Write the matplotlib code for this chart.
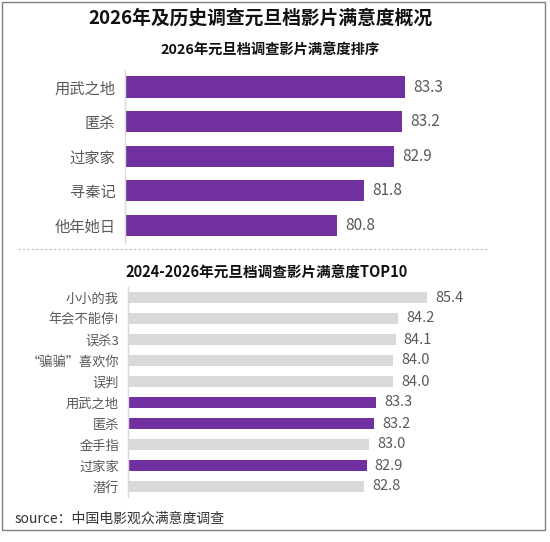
import matplotlib
matplotlib.use("Agg")
import matplotlib.pyplot as plt
from matplotlib.patches import Rectangle
from matplotlib.lines import Line2D

plt.rcParams['font.family'] = ['Noto Sans CJK SC', 'DejaVu Sans']

# 2026 ranking
films_2026 = ["用武之地", "匿杀", "过家家", "寻秦记", "他年她日"]
scores_2026 = [83.3, 83.2, 82.9, 81.8, 80.8]

# 2024-2026 top 10
films_top10 = ["小小的我", "年会不能停!", "误杀3", "“骗骗”喜欢你", "误判",
               "用武之地", "匿杀", "金手指", "过家家", "潜行"]
scores_top10 = [85.4, 84.2, 84.1, 84.0, 84.0, 83.3, 83.2, 83.0, 82.9, 82.8]

purple = "#7030A0"
light = "#D9D9D9"
text_gray = "#595959"

W, H = 550, 542
fig = plt.figure(figsize=(W / 100, H / 100), dpi=100)


def px_axes(left, top, width, height):
    return fig.add_axes([left / W, 1 - (top + height) / H, width / W, height / H])


def style_axes(ax):
    for s in ["top", "right", "bottom"]:
        ax.spines[s].set_visible(False)
    ax.spines["left"].set_color(light)
    ax.spines["left"].set_linewidth(1)
    ax.set_xticks([])
    ax.tick_params(axis="y", length=0, colors=text_gray)


# top chart
ax1 = px_axes(125, 69.7, 360, 173)
y1 = list(range(len(films_2026)))
ax1.barh(y1, scores_2026, left=0, height=0.61, color=purple)
ax1.set_xlim(73, 73 + 360 / 27.2)
ax1.set_ylim(len(films_2026) - 0.5, -0.5)
ax1.set_yticks(y1)
ax1.set_yticklabels(films_2026, fontsize=11)
ax1.tick_params(axis="y", pad=7)
style_axes(ax1)
for y, v in zip(y1, scores_2026):
    ax1.annotate(f"{v:.1f}", (v, y), xytext=(5.8, 0), textcoords="offset points",
                 va="center", ha="left", fontsize=11, color=text_gray)

# bottom chart
ax2 = px_axes(128, 287, 360, 210)
y2 = list(range(len(films_top10)))
colors = [purple if f in films_2026 else light for f in films_top10]
ax2.barh(y2, scores_top10, height=0.56, color=colors)
ax2.set_xlim(73, 73 + 360 / 24.1)
ax2.set_ylim(len(films_top10) - 0.5, -0.5)
ax2.set_yticks(y2)
ax2.set_yticklabels(films_top10, fontsize=9.5)
ax2.tick_params(axis="y", pad=6.5)
style_axes(ax2)
for y, v in zip(y2, scores_top10):
    ax2.annotate(f"{v:.1f}", (v, y), xytext=(5.8, 0), textcoords="offset points",
                 va="center", ha="left", fontsize=10.5, color=text_gray)

# titles and source
fig.text(260 / W, 1 - 18 / H, "2026年及历史调查元旦档影片满意度概况",
         ha="center", va="center", fontsize=13.5, fontweight="bold", color="#111111")
fig.text(270 / W, 1 - 51 / H, "2026年元旦档调查影片满意度排序",
         ha="center", va="center", fontsize=10.3, fontweight="bold", color="#111111")
fig.text(267 / W, 1 - 273 / H, "2024-2026年元旦档调查影片满意度TOP10",
         ha="center", va="center", fontsize=10.5, fontweight="bold", color="#111111")
fig.text(15 / W, 1 - 519 / H, "source：中国电影观众满意度调查",
         ha="left", va="center", fontsize=10, color="#333333")

# separator and frame
fig.add_artist(Line2D([18 / W, 487 / W], [1 - 249 / H, 1 - 249 / H],
                      color="#BFBFBF", lw=0.8, linestyle=(0, (2, 2))))
fig.add_artist(Rectangle((2 / W, 1 - 530 / H), 543 / W, 528 / H, fill=False,
                         edgecolor="#7F7F7F", lw=1))

fig.savefig("out.png", dpi=100)
